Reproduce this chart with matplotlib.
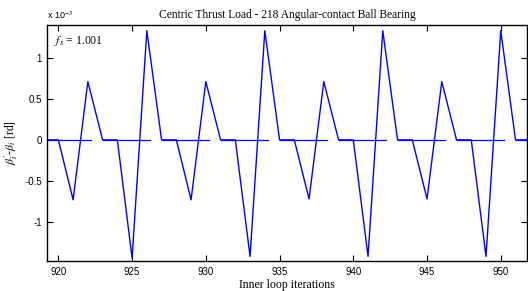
import matplotlib.pyplot as plt
import numpy as np
from matplotlib.ticker import FuncFormatter

# inner loop iterations and beta' - beta values (rd)
iterations = list(range(919, 953))
delta_beta = [
    0.0, 0.0, -0.73e-3, 0.71e-3, 0.0, 0.0, -1.44e-3, 1.33e-3,
    0.0, 0.0, -0.73e-3, 0.71e-3, 0.0, 0.0, -1.42e-3, 1.33e-3,
    0.0, 0.0, -0.72e-3, 0.71e-3, 0.0, 0.0, -1.42e-3, 1.33e-3,
    0.0, 0.0, -0.72e-3, 0.71e-3, 0.0, 0.0, -1.42e-3, 1.33e-3,
    0.0, 0.0,
]

# short zero reference segments
seg_start = [919, 923, 927, 931, 935, 939, 943, 947, 951]
seg_end = [922.2, 926.2, 930.2, 934.2, 938.2, 942.2, 946.2, 950.2, 954.2]

x_ticks = [920, 925, 930, 935, 940, 945, 950]
y_ticks = [-1e-3, -0.5e-3, 0.0, 0.5e-3, 1e-3]

plt.rcParams['mathtext.fontset'] = 'stix'

fig = plt.figure(figsize=(5.28, 2.91), dpi=100)
ax = fig.add_axes([47.3 / 528, 30 / 291, 480 / 528, 236 / 291])

zx, zy = [], []
for s, e in zip(seg_start, seg_end):
    zx += [s, e, np.nan]
    zy += [0.0, 0.0, np.nan]
ax.plot(zx, zy, color='#0000ff', lw=0.9)
ax.plot(iterations, delta_beta, color='#0000ff', lw=1.0)

ax.set_xlim(919.25, 951.8)
ax.set_ylim(-1.476e-3, 1.40e-3)
ax.set_xticks(x_ticks)
ax.set_yticks(y_ticks)
ax.yaxis.set_major_formatter(FuncFormatter(lambda v, p: '%g' % round(v / 1e-3, 3)))
ax.tick_params(direction='in', top=True, right=True, length=4, width=0.8,
               labelsize=7, pad=4)
for lab in ax.get_xticklabels() + ax.get_yticklabels():
    lab.set_family('Liberation Sans')
for sp in ax.spines.values():
    sp.set_linewidth(1.0)

ax.set_title('Centric Thrust Load - 218 Angular-contact Ball Bearing',
             family='Liberation Serif', fontsize=8.3, pad=5)
ax.set_xlabel('Inner loop iterations', family='Liberation Serif', fontsize=8.5, labelpad=2)
ax.set_ylabel(r"$\beta^{\prime}_{i}$-$\beta_{i}$ [rd]", family='Liberation Serif',
              fontsize=8.5, labelpad=4)

fig.text(47 / 528, 1 - 19 / 291, r'x 10$^{-3}$', family='Liberation Sans', fontsize=6.5)
ax.text(0.015, 0.96, r'$f_s$ = 1.001', transform=ax.transAxes, ha='left', va='top',
        family='Liberation Serif', fontsize=8.5)

fig.savefig('out.png', dpi=100)
